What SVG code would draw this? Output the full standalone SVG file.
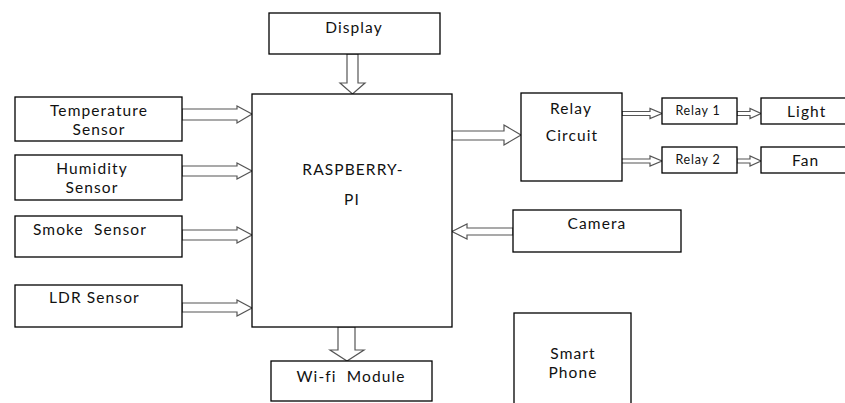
<svg xmlns="http://www.w3.org/2000/svg" width="845" height="403" viewBox="0 0 845 403">
<style>
.box{fill:#fff;stroke:#000;stroke-width:1.3}
.arr{fill:#fff;stroke:#555;stroke-width:1.2;stroke-linejoin:miter}
text{font-family:Lato,"Liberation Sans",sans-serif;font-size:15.5px;letter-spacing:1.1px;fill:#111}
.sm{font-size:12.5px;letter-spacing:0.8px}
.c{text-anchor:middle}
</style>
<rect width="845" height="403" fill="#fff"/>
<g id="connectors">
<polygon class="arr" points="347,54 358,54 358,83 365,83 352.5,94 340,83 347,83"/>
<polygon class="arr" points="182,109 237,109 237,106 252,114 237,123 237,120 182,120"/>
<polygon class="arr" points="182,166 237,166 237,163 252,171 237,179 237,176 182,176"/>
<polygon class="arr" points="182,230 237,230 237,227 252,235 237,243 237,240 182,240"/>
<polygon class="arr" points="182,303 237,303 237,300 252,308 237,316 237,312 182,312"/>
<polygon class="arr" points="452,131 504,131 504,125 521,135 504,145 504,140 452,140"/>
<polygon class="arr" points="513,228 467,228 467,224 452,231.5 467,239 467,235 513,235"/>
<polygon class="arr" points="338,327 355,327 355,350 364,350 347,361 330,350 338,350"/>
<polygon class="arr" points="622,111.5 650,111.5 650,108.5 662,113.5 650,118.5 650,115.5 622,115.5"/>
<polygon class="arr" points="620,159 650,159 650,156 662,161 650,166 650,163 620,163"/>
<polygon class="arr" points="737,111.5 750,111.5 750,108.5 761,113.5 750,118.5 750,115.5 737,115.5"/>
<polygon class="arr" points="737,159 750,159 750,156 761,161 750,166 750,163 737,163"/>
</g>
<g id="display"><rect class="box" x="269" y="13" width="171" height="41"/><text class="c" x="354" y="33">Display</text></g>
<g id="raspberry-pi"><rect class="box" x="252" y="94" width="200" height="233"/><text class="c" x="353" y="175">RASPBERRY-</text><text class="c" x="352" y="205">PI</text></g>
<g id="temperature"><rect class="box" x="15" y="97" width="167" height="44"/><text class="c" x="99" y="116">Temperature</text><text class="c" x="99" y="135">Sensor</text></g>
<g id="humidity"><rect class="box" x="15" y="155" width="167" height="45"/><text class="c" x="92" y="174">Humidity</text><text class="c" x="92" y="193">Sensor</text></g>
<g id="smoke"><rect class="box" x="15" y="216" width="167" height="41"/><text x="33" y="235" xml:space="preserve">Smoke  Sensor</text></g>
<g id="ldr"><rect class="box" x="15" y="285" width="167" height="42"/><text x="49" y="303">LDR Sensor</text></g>
<g id="relay-circuit"><rect class="box" x="521" y="93" width="101" height="88"/><text class="c" x="571" y="114">Relay</text><text class="c" x="572" y="141">Circuit</text></g>
<g id="relay1"><rect class="box" x="662" y="98" width="75" height="26"/><text class="c sm" x="698" y="115">Relay 1</text></g>
<g id="relay2"><rect class="box" x="662" y="147" width="75" height="26"/><text class="c sm" x="698" y="164">Relay 2</text></g>
<g id="light"><rect class="box" x="761" y="98" width="90" height="26"/><text x="787" y="117">Light</text></g>
<g id="fan"><rect class="box" x="761" y="147" width="90" height="26"/><text x="792" y="166">Fan</text></g>
<g id="camera"><rect class="box" x="513" y="210" width="168" height="42"/><text class="c" x="597" y="229">Camera</text></g>
<g id="wifi"><rect class="box" x="271" y="361" width="161" height="40"/><text class="c" x="351" y="382" xml:space="preserve">Wi-fi  Module</text></g>
<g id="smartphone"><rect class="box" x="514" y="313" width="117" height="100"/><text class="c" x="573" y="359">Smart</text><text class="c" x="573" y="378">Phone</text></g>
</svg>
